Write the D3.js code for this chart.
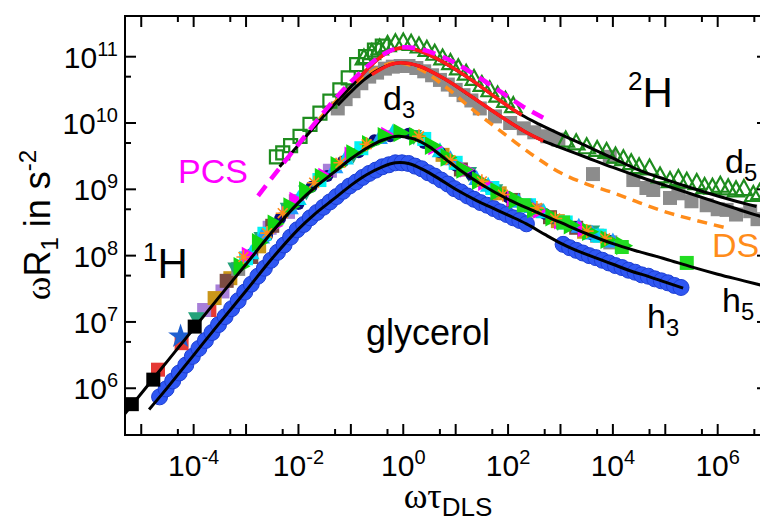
<!DOCTYPE html>
<html>
<head>
<meta charset="utf-8">
<script src="https://cdn.jsdelivr.net/npm/d3@7"></script>
<style>
  html, body { margin: 0; padding: 0; background: #fff; }
  svg { display: block; font-family: "Liberation Sans", Arial, sans-serif; }
</style>
</head>
<body>
<svg id="chart" width="760" height="523"></svg>
<script>
// Every series below is stored as [log10(ωτ_DLS), log10(ωR1 in s^-2)] pairs.

// ---- axis ticks (decade exponents) ----
const xTickExp   = [-5, -4, -3, -2, -1, 0, 1, 2, 3, 4, 5, 6];
const xLabelExp  = [-4, -2, 0, 2, 4, 6];
const yTickExp   = [6, 7, 8, 9, 10, 11];

// ---- 1H: master-curve fit (h5) and fit through glycerol-h3 data ----
const fitH5 = [[-5.4,5.53],[-5.0,5.92],[-4.5,6.41],[-4.0,6.90],[-3.5,7.39],[-3.0,7.87],[-2.5,8.36],[-2.0,8.80],[-1.7,9.02],[-1.3,9.27],[-1.0,9.46],[-0.7,9.62],[-0.4,9.74],[-0.1,9.80],[0.2,9.76],[0.5,9.64],[0.8,9.46],[1.1,9.28],[1.5,9.07],[2.0,8.85],[2.5,8.67],[3.0,8.50],[3.5,8.33],[4.0,8.18],[4.5,8.06],[5.0,7.95],[5.5,7.83],[6.0,7.72],[6.5,7.62],[7.0,7.52]];
const fitH3 = [[-4.85,5.68],[-4.5,6.01],[-4.0,6.50],[-3.5,6.99],[-3.0,7.47],[-2.5,7.96],[-2.0,8.40],[-1.7,8.62],[-1.3,8.87],[-1.0,9.06],[-0.7,9.22],[-0.4,9.34],[-0.15,9.40],[0.1,9.39],[0.4,9.29],[0.7,9.15],[1.0,9.00],[1.4,8.83],[1.7,8.72],[2.0,8.61],[2.35,8.48],[2.7,8.32],[3.0,8.19],[3.3,8.08],[3.7,7.96],[4.0,7.87],[4.3,7.78],[4.7,7.68],[5.0,7.60],[5.34,7.51]];

// glycerol-h3 data (blue circles)
const h3Data = [[-4.65,5.87],[-4.525,5.99],[-4.4,6.11],[-4.275,6.23],[-4.15,6.35],[-4.025,6.48],[-3.9,6.60],[-3.775,6.72],[-3.65,6.84],[-3.525,6.96],[-3.4,7.08],[-3.275,7.20],[-3.15,7.32],[-3.025,7.45],[-2.9,7.57],[-2.775,7.69],[-2.65,7.81],[-2.525,7.93],[-2.4,8.05],[-2.275,8.16],[-2.15,8.28],[-2.025,8.39],[-1.9,8.47],[-1.775,8.57],[-1.65,8.65],[-1.525,8.73],[-1.4,8.81],[-1.275,8.89],[-1.15,8.97],[-1.025,9.05],[-0.9,9.11],[-0.775,9.18],[-0.65,9.24],[-0.525,9.29],[-0.4,9.34],[-0.275,9.37],[-0.15,9.40],[-0.025,9.40],[0.1,9.39],[0.225,9.35],[0.35,9.31],[0.475,9.25],[0.6,9.20],[0.725,9.14],[0.85,9.08],[0.975,9.01],[1.1,8.96],[1.225,8.90],[1.35,8.85],[1.475,8.80],[1.6,8.76],[1.725,8.71],[1.85,8.66],[1.975,8.62],[2.1,8.57],[2.225,8.53],[2.35,8.48],
  [3.05,8.17],[3.175,8.12],[3.3,8.08],[3.425,8.04],[3.55,8.00],[3.675,7.97],[3.8,7.93],[3.925,7.89],[4.05,7.85],[4.175,7.82],[4.3,7.78],[4.425,7.75],[4.55,7.71],[4.675,7.69],[4.8,7.65],[4.925,7.62],[5.05,7.59],[5.175,7.55],[5.3,7.52]];

// 1H master-curve data, one array per sample
const blackSq   = [[-5.18,5.76],[-4.77,6.13],[-3.98,6.93]];
const redSq     = [[-4.68,6.28],[-4.23,6.68],[-3.7,7.18]];
const blueStar  = [[-4.25,6.78]];
const tealTri   = [[-3.95,7.05],[-3.2,7.80],[-2.7,8.26],[-2.2,8.70],[-1.85,8.96],[-0.95,9.52],[0.2,9.80],[1.25,9.24],[1.75,8.98],[2.95,8.50],[3.6,8.36]];
const purpleSq  = [[-3.8,7.18],[-3.45,7.46],[-2.55,8.42],[-2.2,8.66],[-1.4,9.28]];
const goldSq    = [[-3.6,7.36],[-3.3,7.66],[-2.75,8.14],[0.75,9.52],[1.84,8.94],[2.95,8.52],[3.45,8.36]];
const brownSq   = [[-3.37,7.62],[-2.9,7.98],[-2.5,8.45],[1.1,9.30],[2.1,8.84],[2.8,8.58],[3.3,8.42]];
const graySqH   = [[-3.15,7.80],[-2.05,8.82],[2.55,8.68],[3.7,8.30],[3.95,8.20]];
const cyanSq    = [[-3.0,7.96],[-2.65,8.33],[-1.6,9.14],[-0.8,9.62],[0.4,9.76],[1.0,9.40],[1.7,9.02],[2.4,8.76],[3.1,8.50],[3.75,8.30]];
const cyanTri   = [[-2.9,8.04],[-2.0,8.86],[-1.1,9.47],[-0.2,9.86],[0.7,9.58],[1.62,9.06],[2.68,8.66],[3.72,8.30]];
const magentaTri= [[-2.96,8.01],[-2.45,8.45],[-2.05,8.84],[-1.5,9.20],[-1.0,9.52],[-0.3,9.82],[0.6,9.64],[1.2,9.30],[1.55,9.10],[2.1,8.86],[2.6,8.68],[3.0,8.52],[3.45,8.40],[3.9,8.25]];
const skyTri    = [[-2.7,8.28],[-2.15,8.72],[-1.3,9.34],[-0.45,9.78],[0.9,9.46],[1.4,9.16],[2.2,8.82],[2.45,8.74],[3.35,8.44],[3.6,8.34],[4.0,8.22]];
const orangeAst = [[-3.05,7.98],[-2.6,8.34],[-2.3,8.64],[-1.7,9.10],[-1.2,9.40],[-0.7,9.68],[0.3,9.80],[0.9,9.44],[1.5,9.12],[1.9,8.92],[2.55,8.72],[2.9,8.56],[3.5,8.37],[3.85,8.26]];
const navyCirc  = [[-2.9,8.02],[-2.6,8.30],[-2.35,8.56],[-2.0,8.78],[-1.75,9.04],[-1.45,9.20],[-1.15,9.42],[-0.85,9.56],[-0.55,9.74],[-0.25,9.80],[0.1,9.84],[0.4,9.70],[0.7,9.56],[1.0,9.36],[1.3,9.22],[1.65,9.02],[2.0,8.88],[2.35,8.74],[2.7,8.63],[3.0,8.50],[3.3,8.43],[3.6,8.32],[3.95,8.22]];
const limeTri   = [[-3.1,7.84],[-2.75,8.20],[-2.45,8.48],[-2.15,8.74],[-1.85,8.98],[-1.55,9.18],[-1.25,9.36],[-0.95,9.54],[-0.65,9.68],[-0.35,9.80],[-0.05,9.85],[0.25,9.80],[0.55,9.66],[0.85,9.48],[1.15,9.30],[1.45,9.13],[1.8,8.97],[2.15,8.84],[2.5,8.70],[2.85,8.58],[3.2,8.46],[3.55,8.36],[3.9,8.24],[4.2,8.15]];
const limeSq    = [[2.3,8.76],[3.05,8.50],[4.17,8.13],[5.41,7.89]];

// ---- 2H: fits, PCS and DS curves, data ----
const fitD5 = [[-2.36,9.34],[-2.0,9.67],[-1.6,10.03],[-1.2,10.38],[-0.9,10.63],[-0.6,10.88],[-0.35,11.04],[-0.13,11.12],[0.1,11.13],[0.4,11.06],[0.8,10.90],[1.3,10.65],[1.88,10.32],[2.26,10.12],[2.6,9.98],[3.0,9.83],[3.5,9.65],[4.0,9.47],[4.5,9.29],[5.0,9.15],[5.5,9.02],[6.0,8.90],[6.5,8.79],[6.74,8.74]];
const redD5 = [[-0.9,10.63],[-0.6,10.88],[-0.35,11.04],[-0.13,11.12],[0.1,11.13],[0.4,11.06],[0.8,10.90],[1.3,10.65],[1.88,10.32],[2.26,10.12]];
const fitD3 = [[-1.25,10.27],[-1.0,10.47],[-0.75,10.65],[-0.5,10.79],[-0.25,10.88],[-0.05,10.91],[0.3,10.86],[0.8,10.66],[1.3,10.40],[1.84,10.11],[2.3,9.88],[2.67,9.73],[3.0,9.63],[3.5,9.48],[4.0,9.33],[4.5,9.19],[5.0,9.06],[5.5,8.93],[6.0,8.80],[6.5,8.67],[7.0,8.55]];
const redD3 = [[-0.6,10.73],[-0.25,10.88],[-0.05,10.91],[0.3,10.86],[0.8,10.66],[1.3,10.40],[1.84,10.11],[2.3,9.88],[2.67,9.73]];
const pcs = [[-2.77,8.90],[-2.5,9.18],[-2.0,9.68],[-1.5,10.18],[-1.0,10.62],[-0.6,10.91],[-0.3,11.07],[-0.05,11.14],[0.3,11.12],[0.8,10.98],[1.3,10.76],[1.84,10.48],[2.3,10.24],[2.67,10.08]];
const ds = [[-1.6,10.06],[-1.2,10.40],[-0.8,10.66],[-0.5,10.82],[-0.15,10.91],[0.3,10.82],[0.8,10.55],[1.3,10.22],[1.84,9.89],[2.5,9.50],[3.0,9.25],[3.5,9.08],[4.0,8.95],[4.5,8.80],[5.0,8.66],[5.5,8.55],[6.2,8.41]];

const grayD3 = [[-1.25,10.22],[-1.1,10.36],[-0.95,10.48],[-0.8,10.60],[-0.65,10.70],[-0.5,10.76],[-0.35,10.82],[-0.2,10.85],[-0.05,10.86],[0.1,10.86],[0.25,10.83],[0.4,10.78],[0.55,10.72],[0.7,10.65],[0.85,10.58],[1.0,10.50],[1.15,10.42],[1.3,10.34],[1.46,10.22],[1.75,10.10],[2.04,10.0],[2.3,9.92],[2.5,9.86],[2.75,9.80],[2.96,9.75],[3.62,9.23],[3.94,9.49],[4.39,9.14],[4.64,9.02],[4.77,8.99],[5.09,8.87],[5.25,8.94],[5.5,8.82],[5.79,8.76],[6.0,8.70],[6.17,8.69],[6.35,8.62],[6.62,8.67],[6.76,8.55]];
const greenSqD = [[-2.42,9.49],[-2.3,9.55],[-2.15,9.66],[-1.97,9.80],[-1.78,9.98],[-1.59,10.15],[-1.40,10.33],[-1.21,10.50],[-1.05,10.68],[-0.89,10.88],[-0.72,11.00],[-0.55,11.10],[-0.4,11.16]];
const greenTriD = [[-0.75,10.98],[-0.6,11.06],[-0.45,11.13],[-0.3,11.18],[-0.15,11.21],[0.0,11.22],[0.15,11.20],[0.3,11.16],[0.45,11.11],[0.6,11.05],[0.75,10.98],[0.9,10.91],[1.05,10.83],[1.2,10.75],[1.35,10.67],[1.5,10.58],[1.65,10.50],[1.8,10.42],[1.95,10.34],[2.1,10.26],
  [3.1,9.74],[3.3,9.70],[3.5,9.64],[3.7,9.60],[3.88,9.57],[4.05,9.50],[4.2,9.46],[4.35,9.40],[4.5,9.34],[4.7,9.32],[4.9,9.20],[5.09,9.13],[5.25,9.16],[5.41,9.12],[5.6,9.10],[5.75,9.04],[5.9,9.03],[6.05,9.06],[6.2,9.02],[6.35,8.99],[6.5,9.01],[6.68,8.92],[6.8,8.95]];

// ---- layout ----
const frame = { left: 125, right: 768, top: 16, bottom: 435 };
const svg = d3.select('#chart');

const x = d3.scaleLog().domain([10 ** -5.31, 10 ** 6.96]).range([frame.left, frame.right]);
const y = d3.scaleLog().domain([10 ** 5.295, 10 ** 11.614]).range([frame.bottom, frame.top]);
const px = d => x(10 ** d[0]);
const py = d => y(10 ** d[1]);

svg.append('defs').append('clipPath').attr('id', 'plotClip')
  .append('rect').attr('x', frame.left).attr('y', frame.top)
  .attr('width', frame.right - frame.left).attr('height', frame.bottom - frame.top);

const plot = svg.append('g').attr('clip-path', 'url(#plotClip)');
const line = d3.line().x(px).y(py).curve(d3.curveCatmullRom.alpha(0.5));

function marker(shape, s) {
  const h = s / 2;
  switch (shape) {
    case 'square':   return `M${-h},${-h}H${h}V${h}H${-h}Z`;
    case 'triUp':    return `M0,${-h * 1.15}L${h * 1.1},${h * 0.85}L${-h * 1.1},${h * 0.85}Z`;
    case 'triDown':  return `M0,${h * 1.15}L${h * 1.1},${-h * 0.85}L${-h * 1.1},${-h * 0.85}Z`;
    case 'triRight': return `M${h * 1.15},0L${-h * 0.85},${h * 1.1}L${-h * 0.85},${-h * 1.1}Z`;
    case 'circle':   return d3.symbol(d3.symbolCircle, Math.PI * h * h)();
    case 'star':     return d3.symbol(d3.symbolStar, s * s * 0.75)();
    case 'aster':    return `M${-h},0H${h}M0,${-h}V${h}M${-h * 0.7},${-h * 0.7}L${h * 0.7},${h * 0.7}M${-h * 0.7},${h * 0.7}L${h * 0.7},${-h * 0.7}`;
  }
}

function drawPoints(data, shape, size, fill, stroke, sw) {
  plot.append('g').selectAll('path').data(data).join('path')
    .attr('transform', d => `translate(${px(d)},${py(d)})`)
    .attr('d', marker(shape, size))
    .attr('fill', fill)
    .attr('stroke', stroke || 'none')
    .attr('stroke-width', sw || 0)
    .attr('stroke-linejoin', 'miter');
}

function drawLine(data, color, width, dash) {
  plot.append('path').datum(data).attr('d', line)
    .attr('fill', 'none').attr('stroke', color).attr('stroke-width', width)
    .attr('stroke-dasharray', dash || null).attr('stroke-linecap', 'butt');
}

// ---- 2H ----
drawPoints(grayD3, 'square', 14, '#8c8c8c');
drawPoints(greenSqD, 'square', 13, 'none', '#1e8c1e', 2.2);
drawPoints(greenTriD, 'triUp', 15, 'none', '#1e8c1e', 2.2);
drawLine(ds, '#ff8c1a', 3.5, '10,7');
drawLine(fitD3, '#000', 3);
drawLine(fitD5, '#000', 3);
drawLine(redD3, '#ff1a1a', 3.5);
drawLine(redD5, '#ff1a1a', 3.5);
drawLine(pcs, '#ff00ff', 4.5, '13,8');

// ---- 1H ----
drawPoints(h3Data, 'circle', 16, '#2f57f2', '#1d3fd4', 1);
drawLine(fitH3, '#000', 3);

drawPoints(redSq, 'square', 14, '#e53935');
drawPoints(purpleSq, 'square', 14, '#a77fd8');
drawPoints(goldSq, 'square', 14, '#c9961a');
drawPoints(brownSq, 'square', 14, '#7b4b42');
drawPoints(graySqH, 'square', 14, '#8a8a8a');
drawPoints(tealTri, 'triDown', 15, '#23a27a');
drawPoints(navyCirc, 'circle', 12, '#0c0c7a');
drawPoints(cyanSq, 'square', 14, '#00f2f2');
drawPoints(cyanTri, 'triUp', 15, '#00d8f0');
drawPoints(skyTri, 'triUp', 15, '#1e9bff');
drawPoints(magentaTri, 'triRight', 15, '#ff00ff');
drawPoints(limeTri, 'triRight', 17, '#12d612');
drawPoints(limeSq, 'square', 14, '#22dd22');
drawPoints(orangeAst, 'aster', 14, 'none', '#ff8c1a', 1.6);
drawPoints(blueStar, 'star', 16, '#1f5fd0');
drawPoints(blackSq, 'square', 14, '#000');
drawLine(fitH5, '#000', 3);

// ---- axes frame and ticks ----
const axes = svg.append('g').attr('stroke', '#000').attr('stroke-width', 2).attr('fill', 'none');
axes.append('rect').attr('x', frame.left).attr('y', frame.top)
  .attr('width', frame.right - frame.left).attr('height', frame.bottom - frame.top);

const xMinorVals = xTickExp.map(e => 5 * 10 ** e).filter(v => x(v) > frame.left + 2 && x(v) < frame.right - 2);
const yMinorVals = [5, ...yTickExp].map(e => 5 * 10 ** e).filter(v => y(v) > frame.top + 2 && y(v) < frame.bottom - 2);
const major = 11, minor = 6;

xTickExp.forEach(e => {
  const xv = x(10 ** e);
  axes.append('line').attr('x1', xv).attr('x2', xv).attr('y1', frame.bottom).attr('y2', frame.bottom - major);
  axes.append('line').attr('x1', xv).attr('x2', xv).attr('y1', frame.top).attr('y2', frame.top + major);
});
xMinorVals.forEach(v => {
  const xv = x(v);
  axes.append('line').attr('x1', xv).attr('x2', xv).attr('y1', frame.bottom).attr('y2', frame.bottom - minor);
  axes.append('line').attr('x1', xv).attr('x2', xv).attr('y1', frame.top).attr('y2', frame.top + minor);
});
yTickExp.forEach(e => {
  const yv = y(10 ** e);
  axes.append('line').attr('x1', frame.left).attr('x2', frame.left + major).attr('y1', yv).attr('y2', yv);
  axes.append('line').attr('x1', frame.right).attr('x2', frame.right - major).attr('y1', yv).attr('y2', yv);
});
yMinorVals.forEach(v => {
  const yv = y(v);
  axes.append('line').attr('x1', frame.left).attr('x2', frame.left + minor).attr('y1', yv).attr('y2', yv);
  axes.append('line').attr('x1', frame.right).attr('x2', frame.right - minor).attr('y1', yv).attr('y2', yv);
});

// ---- tick labels ----
const tickFont = 30, supFont = 20;
xLabelExp.forEach(e => {
  const t = svg.append('text').attr('x', x(10 ** e)).attr('y', 476)
    .attr('text-anchor', 'middle').attr('font-size', tickFont).attr('fill', '#000');
  t.append('tspan').text('10');
  t.append('tspan').attr('font-size', supFont).attr('dy', -12).text(String(e));
});
yTickExp.forEach(e => {
  const t = svg.append('text').attr('x', 118).attr('y', y(10 ** e) + 11)
    .attr('text-anchor', 'end').attr('font-size', tickFont).attr('fill', '#000');
  t.append('tspan').text('10');
  t.append('tspan').attr('font-size', supFont).attr('dy', -12).text(String(e));
});

// ---- axis titles ----
const greek = '"Liberation Serif", "DejaVu Serif", serif';
const yt = svg.append('text').attr('transform', 'translate(50,225) rotate(-90)')
  .attr('text-anchor', 'middle').attr('font-size', 36).attr('fill', '#000');
yt.append('tspan').attr('font-family', greek).text('ω');
yt.append('tspan').text('R');
yt.append('tspan').attr('font-size', 24).attr('dy', 8).text('1');
yt.append('tspan').attr('dy', -8).text(' in s');
yt.append('tspan').attr('font-size', 24).attr('dy', -14).text('-2');

const xt = svg.append('text').attr('x', 448).attr('y', 508)
  .attr('text-anchor', 'middle').attr('font-size', 36).attr('fill', '#000');
xt.append('tspan').attr('font-family', greek).text('ωτ');
xt.append('tspan').attr('font-size', 26).attr('dy', 8).text('DLS');

// ---- annotations ----
function label(xp, yp, main, script, kind, size, color) {
  const t = svg.append('text').attr('x', xp).attr('y', yp).attr('font-size', size).attr('fill', color || '#000');
  if (kind === 'pre') {
    t.append('tspan').attr('font-size', size * 0.62).attr('dy', -size * 0.4).text(script);
    t.append('tspan').attr('dy', size * 0.4).text(main);
  } else if (kind === 'sub') {
    t.append('tspan').text(main);
    t.append('tspan').attr('font-size', size * 0.7).attr('dy', size * 0.24).text(script);
  } else {
    t.append('tspan').text(main);
  }
}
label(178, 183, 'PCS', null, null, 34, '#ff00ff');
label(143, 278, 'H', '1', 'pre', 42);
label(628, 107, 'H', '2', 'pre', 42);
label(383, 110, 'd', '3', 'sub', 34);
label(725, 173, 'd', '5', 'sub', 34);
label(712, 257, 'DS', null, null, 34, '#ff8c1a');
label(647, 328, 'h', '3', 'sub', 34);
label(722, 312, 'h', '5', 'sub', 34);
label(366, 345, 'glycerol', null, null, 36);
</script>
</body>
</html>
